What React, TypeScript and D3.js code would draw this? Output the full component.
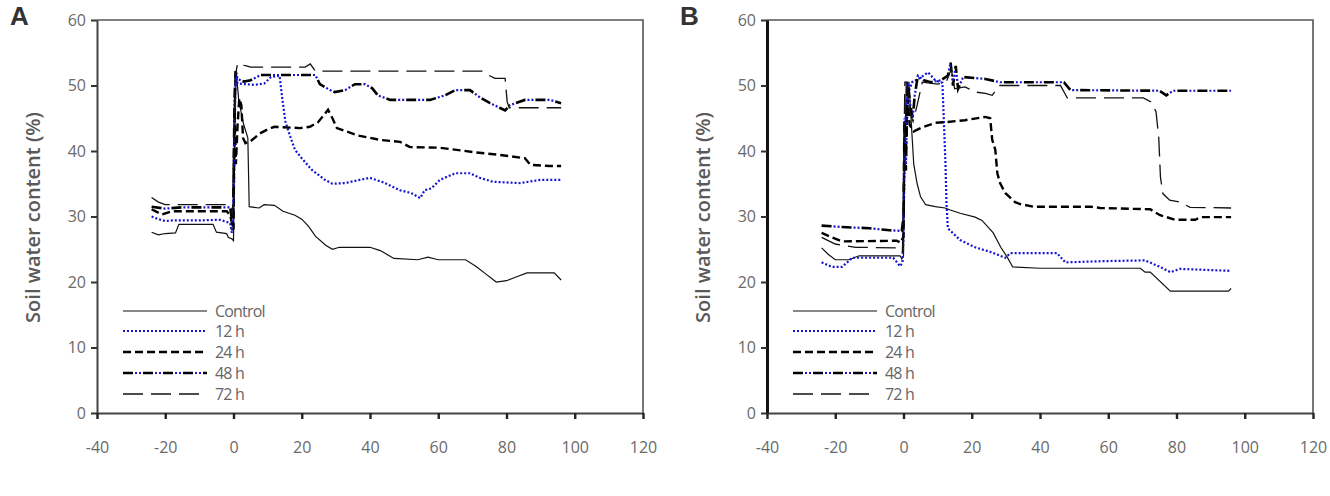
import React, { useRef, useEffect } from "react";
import * as d3 from "d3";

type Pt = [number, number];

// Soil water content (%) against time (h) around flooding, panel A
const controlA: Pt[] = [
  [-24, 27.6], [-22, 27.2], [-20, 27.4], [-17, 27.5], [-16, 28.8], [-6, 28.8], [-5, 27.6], [-2, 27.4],
  [-1.5, 26.8], [-0.5, 26.6], [0, 26.3], [0.4, 44], [0.8, 52], [1.5, 48], [2.2, 46], [3, 44], [4.2, 42],
  [4.6, 31.5], [7.5, 31.3], [9, 31.8], [12, 31.7], [14.5, 30.8], [18, 30.2], [20, 29.6], [22, 28.5],
  [24, 27], [27, 25.6], [29, 25], [31, 25.3], [40, 25.3], [43, 24.8], [47, 23.6], [54, 23.4], [57, 23.8],
  [60, 23.4], [68, 23.4], [71, 22.4], [74, 21.2], [77, 20], [80, 20.2], [83, 20.8], [86, 21.4], [94, 21.4],
  [96, 20.3],
];
const h12A: Pt[] = [
  [-24, 30], [-22, 29.6], [-20, 29.3], [-18, 29.4], [-10, 29.4], [-4, 29.5], [-1, 29], [-0.5, 27.5], [0, 30],
  [0.3, 40], [0.6, 52], [1.2, 50.3], [6, 50.1], [9, 50.3], [11, 51.3], [13.5, 51.5], [14.3, 48], [15.2, 44.5],
  [16.5, 42.4], [18, 40.2], [19.5, 39.2], [23, 37.1], [26.8, 35.6], [29, 35], [32.7, 35.1], [37, 35.6],
  [40, 35.9], [44, 35.2], [48.8, 34], [52, 33.6], [54.7, 32.8], [56, 34], [58, 34.3], [60.5, 35.6], [65, 36.6],
  [69.3, 36.6], [72.2, 35.9], [76, 35.3], [84, 35.1], [90, 35.6], [96, 35.6],
];
const h24A: Pt[] = [
  [-24, 31.1], [-21, 30.3], [-18, 30.8], [-2, 30.8], [-1, 30.2], [0, 28], [0.3, 46], [0.7, 38], [1.2, 44],
  [1.7, 48], [2.3, 47], [2.8, 42], [3.5, 41.2], [5, 41.5], [7.8, 42.7], [10, 43.3], [12, 43.7], [19.5, 43.5],
  [22.4, 43.7], [24.8, 44.4], [26.5, 45.5], [27.7, 46.3], [29, 45], [30.3, 43.5], [33, 43], [36.2, 42.4],
  [42.9, 41.7], [48.8, 41.4], [51.7, 40.6], [60.5, 40.5], [70.8, 39.8], [78, 39.4], [85.4, 38.9], [87, 37.9],
  [92.7, 37.7], [96, 37.7],
];
const h48A: Pt[] = [
  [-24, 31.5], [-20, 31.2], [-15, 31.4], [-1, 31.4], [-0.3, 29], [0, 34], [0.3, 48], [0.6, 52.2], [1.2, 51],
  [3, 50.6], [5, 50.8], [8, 51.6], [24, 51.6], [25.3, 50.2], [28.3, 49.3], [29.7, 49], [32.7, 49.3],
  [35.6, 50.2], [38.5, 50.2], [40.6, 49.6], [42.3, 48.5], [45.9, 47.8], [57.6, 47.8], [62, 48.5], [65, 49.3],
  [69.3, 49.3], [72.2, 48.2], [75.2, 47.3], [78, 46.6], [79.6, 46.2], [81, 47], [85.4, 47.8], [92.7, 47.8],
  [96, 47.3],
];
const h72A: Pt[] = [
  [-24, 32.9], [-22, 32.2], [-20, 31.8], [-1, 31.8], [-0.3, 30], [0, 40], [0.4, 51], [1.2, 53.4], [3, 53.1],
  [5, 52.8], [21, 52.8], [22.5, 53.3], [24, 52.2], [72.8, 52.2], [74.6, 51.6], [76.6, 51.1], [79.6, 51.1],
  [80.2, 47.5], [80.8, 46.6], [96, 46.6],
];

// Panel B
const controlB: Pt[] = [
  [-24, 25.2], [-22, 24.2], [-20, 23.4], [-16, 23.4], [-13, 24], [-1, 24], [-0.5, 23.5], [0, 24], [0.3, 37],
  [0.8, 50.5], [1.6, 50.5], [2.2, 45], [3, 38], [4, 35], [5, 33], [6.5, 31.8], [9.3, 31.5], [12.2, 31.3],
  [13.7, 31], [16.6, 30.5], [21, 29.9], [23, 29.4], [26.3, 27.5], [28.5, 25.3], [30.4, 23.8], [32, 22.3],
  [40, 22.1], [69.4, 22.1], [70.8, 21.5], [72.3, 21.5], [78.2, 18.6], [95.2, 18.6], [96, 19],
];
const h12B: Pt[] = [
  [-24, 23], [-21, 22.3], [-18, 22.3], [-15, 23.7], [-3, 23.7], [-1, 22.4], [-0.3, 23], [0, 27], [0.4, 42],
  [0.8, 47], [1.5, 49], [2.5, 50.5], [5, 51.2], [7.2, 52], [9.3, 50.8], [11.4, 50.4], [11.8, 45], [12.3, 38],
  [12.6, 32], [13, 28.2], [16.6, 26.4], [21, 25.3], [25.4, 24.6], [29.8, 23.7], [31.3, 24.4], [45, 24.4],
  [47.4, 23], [60, 23.2], [70.8, 23.3], [75.2, 22.3], [78.2, 21.5], [81, 22], [96, 21.7],
];
const h24B: Pt[] = [
  [-24, 27.5], [-21, 26.8], [-18, 26.2], [-2, 26.3], [-0.8, 26], [0, 27], [0.3, 44], [0.7, 40], [1.2, 48],
  [1.8, 44], [3, 43], [5, 43.5], [9.3, 44.3], [12.2, 44.4], [18, 44.7], [24, 45.2], [25.4, 45], [26, 41.7],
  [26.9, 40.2], [27.5, 36.6], [28.3, 35.1], [29.8, 33.6], [32.7, 32.2], [34.2, 31.9], [38, 31.5], [54.7, 31.5],
  [57.6, 31.3], [72.3, 31.1], [75.2, 30.2], [79.6, 29.5], [85.5, 29.5], [87, 29.9], [96, 29.9],
];
const h48B: Pt[] = [
  [-24, 28.6], [-18, 28.4], [-10, 28.2], [-4, 27.9], [-0.5, 27.8], [0, 30], [0.3, 45], [0.7, 37], [1.2, 50.5],
  [2, 47], [2.7, 45], [3.3, 48.5], [4.2, 51.5], [6, 50.8], [8, 50.5], [11, 50.8], [13, 51.5], [13.8, 53.5],
  [14.5, 50], [15.3, 53], [16, 49.5], [17.5, 51.3], [24, 51], [28.3, 50.5], [47, 50.5], [48.9, 49.3],
  [75, 49.2], [77, 48.5], [79, 49.2], [96, 49.2],
];
const h72B: Pt[] = [
  [-24, 26.8], [-20, 25.8], [-14, 25.3], [-1, 25.2], [-0.3, 24.5], [0, 35], [0.4, 50.5], [1, 50.5], [1.8, 46],
  [2.8, 44.5], [4, 47], [5.5, 50.5], [10, 50.2], [12.5, 50.5], [14, 52.5], [15, 49.5], [18, 49.8], [21, 49],
  [24, 48.8], [26, 48.5], [28, 50], [46, 50], [48, 48.1], [70.3, 48.1], [72.5, 47.5], [74, 46], [74.8, 42],
  [75.3, 36], [76, 33.5], [78, 32.5], [81, 32.2], [84, 31.4], [96, 31.3],
];

const treatments = ["Control", "12 h", "24 h", "48 h", "72 h"];
const xTicks = [-40, -20, 0, 20, 40, 60, 80, 100, 120];
const yTicks = [0, 10, 20, 30, 40, 50, 60];

const BLUE = "#1414d2";
const FONT = "'Open Sans', 'Noto Sans', sans-serif";

// stroke layers for each treatment (48 h is black dashes with blue dots between)
const lineStyles = [
  [{ stroke: "#111", width: 1.2, dash: "" }],
  [{ stroke: BLUE, width: 2.2, dash: "2 2" }],
  [{ stroke: "#000", width: 2.4, dash: "8 4" }],
  [
    { stroke: "#000", width: 2.6, dash: "10 10" },
    { stroke: BLUE, width: 2.2, dash: "0 12 2 2 2 2" },
  ],
  [{ stroke: "#111", width: 1.3, dash: "20 8" }],
];

const Panel = ({ letter, series, left, top = 20, width = 546, height = 393, axisStroke }) => {
  const gRef = useRef(null);

  useEffect(() => {
    const g = d3.select(gRef.current);
    g.selectAll("*").remove();

    const x = d3.scaleLinear().domain([-40, 120]).range([left, left + width]);
    const y = d3.scaleLinear().domain([0, 60]).range([top + height, top]);
    const fmt = (d) => String(d); // plain hyphen for negatives

    // frame (top and right)
    g.append("path")
      .attr("d", `M${left},${top}H${left + width}V${top + height}`)
      .attr("fill", "none")
      .attr("stroke", "#555")
      .attr("stroke-width", 1.6);

    // series
    const line = d3.line<Pt>().x((d) => x(d[0])).y((d) => y(d[1]));
    series.forEach((data, i) => {
      lineStyles[i].forEach((s) => {
        g.append("path")
          .datum(data)
          .attr("d", line)
          .attr("fill", "none")
          .attr("stroke", s.stroke)
          .attr("stroke-width", s.width)
          .attr("stroke-dasharray", s.dash || null)
          .attr("stroke-linejoin", "miter");
      });
    });

    // Y axis
    const ya = g.append("g")
      .attr("transform", `translate(${left},0)`)
      .call(d3.axisLeft(y).tickValues(yTicks).tickFormat(fmt).tickSize(6).tickPadding(5).tickSizeOuter(0));
    ya.select(".domain").attr("stroke", axisStroke.color).attr("stroke-width", axisStroke.width);
    ya.selectAll(".tick line").attr("stroke", "#333").attr("stroke-width", 2);
    ya.selectAll(".tick text").attr("fill", "#6a6a6a").style("font-size", "16px").style("font-family", FONT);

    // X axis
    const xa = g.append("g")
      .attr("transform", `translate(0,${top + height})`)
      .call(d3.axisBottom(x).tickValues(xTicks).tickFormat(fmt).tickSize(6).tickPadding(23).tickSizeOuter(0));
    xa.select(".domain").attr("stroke", "#444").attr("stroke-width", 2);
    xa.selectAll(".tick line").attr("stroke", "#222").attr("stroke-width", 2.4);
    xa.selectAll(".tick text").attr("fill", "#6a6a6a").style("font-size", "16px").style("font-family", FONT);

    // Y axis title
    g.append("text")
      .attr("transform", `translate(${left - 57},${top + height / 2 + 1}) rotate(-90)`)
      .attr("text-anchor", "middle")
      .attr("fill", "#5a5a5a")
      .style("font-size", "20px")
      .style("font-weight", 600)
      .style("font-family", FONT)
      .text("Soil water content (%)");

    // panel letter
    g.append("text")
      .attr("x", left - 87)
      .attr("y", 25)
      .attr("fill", "#333")
      .style("font-size", "26px")
      .style("font-weight", 700)
      .style("font-family", "'Liberation Sans', Arial, sans-serif")
      .text(letter);

    // legend
    const rowY = [311, 331, 352, 373, 394];
    treatments.forEach((name, i) => {
      lineStyles[i].forEach((s) => {
        g.append("line")
          .attr("x1", left + 26)
          .attr("x2", left + 110)
          .attr("y1", rowY[i])
          .attr("y2", rowY[i])
          .attr("stroke", s.stroke)
          .attr("stroke-width", s.width)
          .attr("stroke-dasharray", s.dash || null);
      });
      g.append("text")
        .attr("x", left + 118)
        .attr("y", rowY[i])
        .attr("dy", "0.35em")
        .attr("fill", "#666")
        .style("font-size", "16px")
        .style("letter-spacing", "-0.8px")
        .style("font-family", FONT)
        .text(name);
    });
  }, [letter, series, left, top, width, height, axisStroke]);

  return <g ref={gRef} />;
};

export default function App() {
  return (
    <svg
      width={1330}
      height={496}
      style={{ position: "absolute", left: 0, top: 0, background: "#fff" }}
    >
      <Panel
        letter="A"
        series={[controlA, h12A, h24A, h48A, h72A]}
        left={97}
        axisStroke={{ color: "#444", width: 2 }}
      />
      <Panel
        letter="B"
        series={[controlB, h12B, h24B, h48B, h72B]}
        left={767}
        axisStroke={{ color: "#111", width: 3 }}
      />
    </svg>
  );
}
